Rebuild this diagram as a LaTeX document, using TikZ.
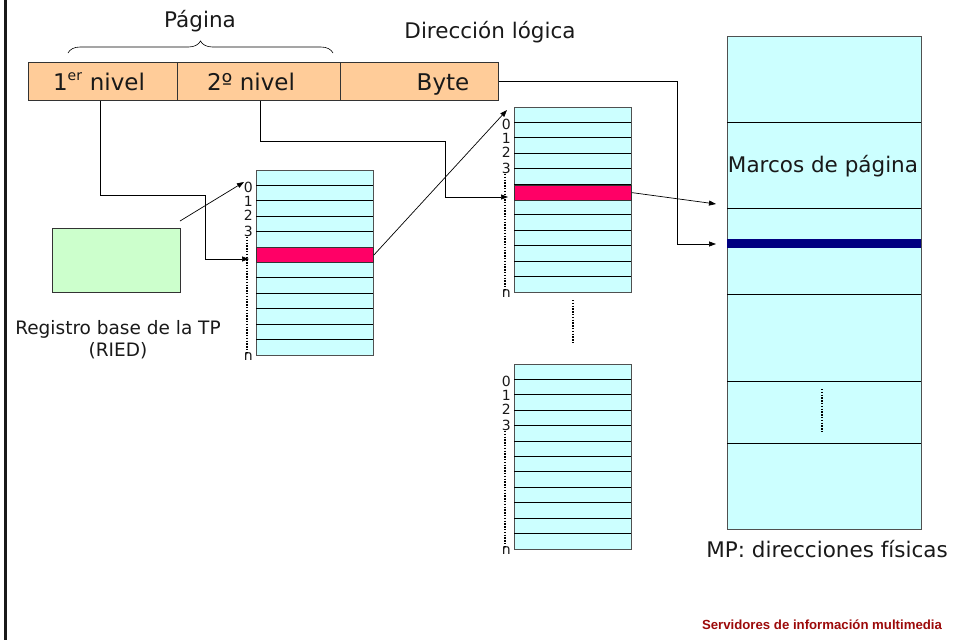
\documentclass[tikz,border=0pt]{standalone}
\usepackage{fontspec}
\setmainfont{DejaVu Sans}
\newfontfamily\footfont{Liberation Sans}
\usetikzlibrary{decorations.pathreplacing,arrows.meta}
\definecolor{barorange}{HTML}{FFCC99}
\definecolor{tcyan}{HTML}{CCFFFF}
\definecolor{regreen}{HTML}{CCFFCC}
\definecolor{rowred}{HTML}{FF0066}
\definecolor{bandblue}{HTML}{000080}
\definecolor{footred}{HTML}{9C0A0A}
\definecolor{edgegray}{HTML}{505050}
\tikzset{
  barcell/.style={draw=black!80, fill=barorange, line width=0.8pt, minimum height=38pt, inner sep=0pt, anchor=north west},
  tblbox/.style={draw=edgegray, fill=tcyan, line width=1pt, minimum width=117pt, minimum height=185pt, inner sep=0pt, anchor=north west},
  redrow/.style={draw=black!80, fill=rowred, line width=0.8pt, minimum width=117pt, minimum height=15.4pt, inner sep=0pt, anchor=north west},
  rowline/.style={line width=0.8pt, black},
  idx/.style={font=\fontsize{14}{14}\selectfont, inner sep=0pt, anchor=east, text=black!90},
  dots/.style={line width=1.5pt, dash pattern=on 1.3pt off 1.5pt},
  arr/.style={line width=0.7pt, -{Triangle[length=7pt,width=5pt]}},
  bigtxt/.style={font=\fontsize{21.5}{25}\selectfont, inner sep=0pt, text=black!90},
  bartxt/.style={font=\fontsize{23}{23}\selectfont, inner sep=0pt, text=black!90, anchor=base},
}
\begin{document}
\begin{tikzpicture}[x=1pt,y=-1pt]
\useasboundingbox (0,0) rectangle (959,640);
% left frame line
\draw[line width=3pt, black!90] (5,0) -- (5,640);

% top bar
\node[barcell, minimum width=149pt] (l1) at (28,62) {};
\node[barcell, minimum width=163pt] (l2) at (177,62) {};
\node[barcell, minimum width=158pt] (byte) at (340,62) {};
\node[bartxt] (l1t) at (99,90) {1\textsuperscript{\fontsize{14}{14}\selectfont er} nivel};
\node[bartxt] (l2t) at (251,90) {2º nivel};
\node[bartxt] (bytet) at (443,90) {Byte};

% brace and titles
\coordinate (brA) at (68,53);
\coordinate (brB) at (333,53);
\draw[line width=0.6pt, decorate, decoration={brace, amplitude=12pt}] (brA) -- (brB);
\node[bigtxt] (pag) at (200,21) {Página};
\node[bigtxt] (dirl) at (490,32) {Dirección lógica};

% register box
\node[draw=black!80, fill=regreen, line width=0.8pt, minimum width=128pt, minimum height=64pt, inner sep=0pt, anchor=north west] (reg) at (52,228) {};
\node[font=\fontsize{18.5}{22}\selectfont, align=center, inner sep=0pt, text=black!90] (regt) at (118,340) {Registro base de la TP\\(RIED)};

% tables
\foreach \nm/\tx/\ty in {t1/256/170, t2/514/107, t3/514/364} {
  \node[tblbox] (\nm) at (\tx,\ty) {};
  \foreach \i in {1,...,11} {
    \draw[rowline] (\tx,\ty+\i*15.4) -- (\tx+117,\ty+\i*15.4);
  }
  \node[idx] (\nm i0) at (\tx-3,\ty+17) {0};
  \node[idx] (\nm i1) at (\tx-3,\ty+31) {1};
  \node[idx] (\nm i2) at (\tx-3,\ty+45) {2};
  \node[idx] (\nm i3) at (\tx-3,\ty+61) {3};
  \node[idx] (\nm in) at (\tx-3,\ty+187) {n};
  \draw[dots] (\tx-9,\ty+67) -- (\tx-9,\ty+182);
}
\node[redrow] (r1) at (256,247) {};
\node[redrow] (r2) at (514,184.5) {};

% dots between tables 2 and 3
\draw[dots] (573,300) -- (573,344);

% main memory
\node[draw=edgegray, fill=tcyan, line width=1pt, minimum width=194pt, minimum height=493pt, inner sep=0pt, anchor=north west] (mp) at (727,36) {};
\foreach \yy in {122,208,294,381,443} {
  \draw[rowline] (727,\yy) -- (921,\yy);
}
\fill[bandblue] (727,239) rectangle (921,248);
\draw[dots] (822,389) -- (822,432);
\node[bigtxt] (marcos) at (823,166) {Marcos de página};
\node[bigtxt] (mpt) at (827,549) {MP: direcciones físicas};

% connectors
\coordinate (c1a) at (205,195);
\coordinate (c1b) at (249,259);
\draw[arr] (l1.south -| 100,0) |- (c1a) |- (c1b);
\coordinate (c2a) at (445,141);
\coordinate (c2b) at (508,197);
\draw[arr] (l2.south -| 260,0) |- (c2a) |- (c2b);
\coordinate (c3a) at (677,244);
\coordinate (c3b) at (716,244);
\draw[arr] (byte.east) -| (c3a) -- (c3b);
\coordinate (regs) at (180,221);
\coordinate (regd) at (244,182);
\draw[arr] (regs) -- (regd);
\coordinate (r1d) at (507,110);
\draw[arr] (r1.east) -- (r1d);
\coordinate (r2d) at (716,204);
\draw[arr] (r2.east) -- (r2d);

% footer
\node[font=\footfont\bfseries\fontsize{13.2}{14}\selectfont, text=footred, inner sep=0pt] (foot) at (822,625) {Servidores de información multimedia};
\end{tikzpicture}
\end{document}
